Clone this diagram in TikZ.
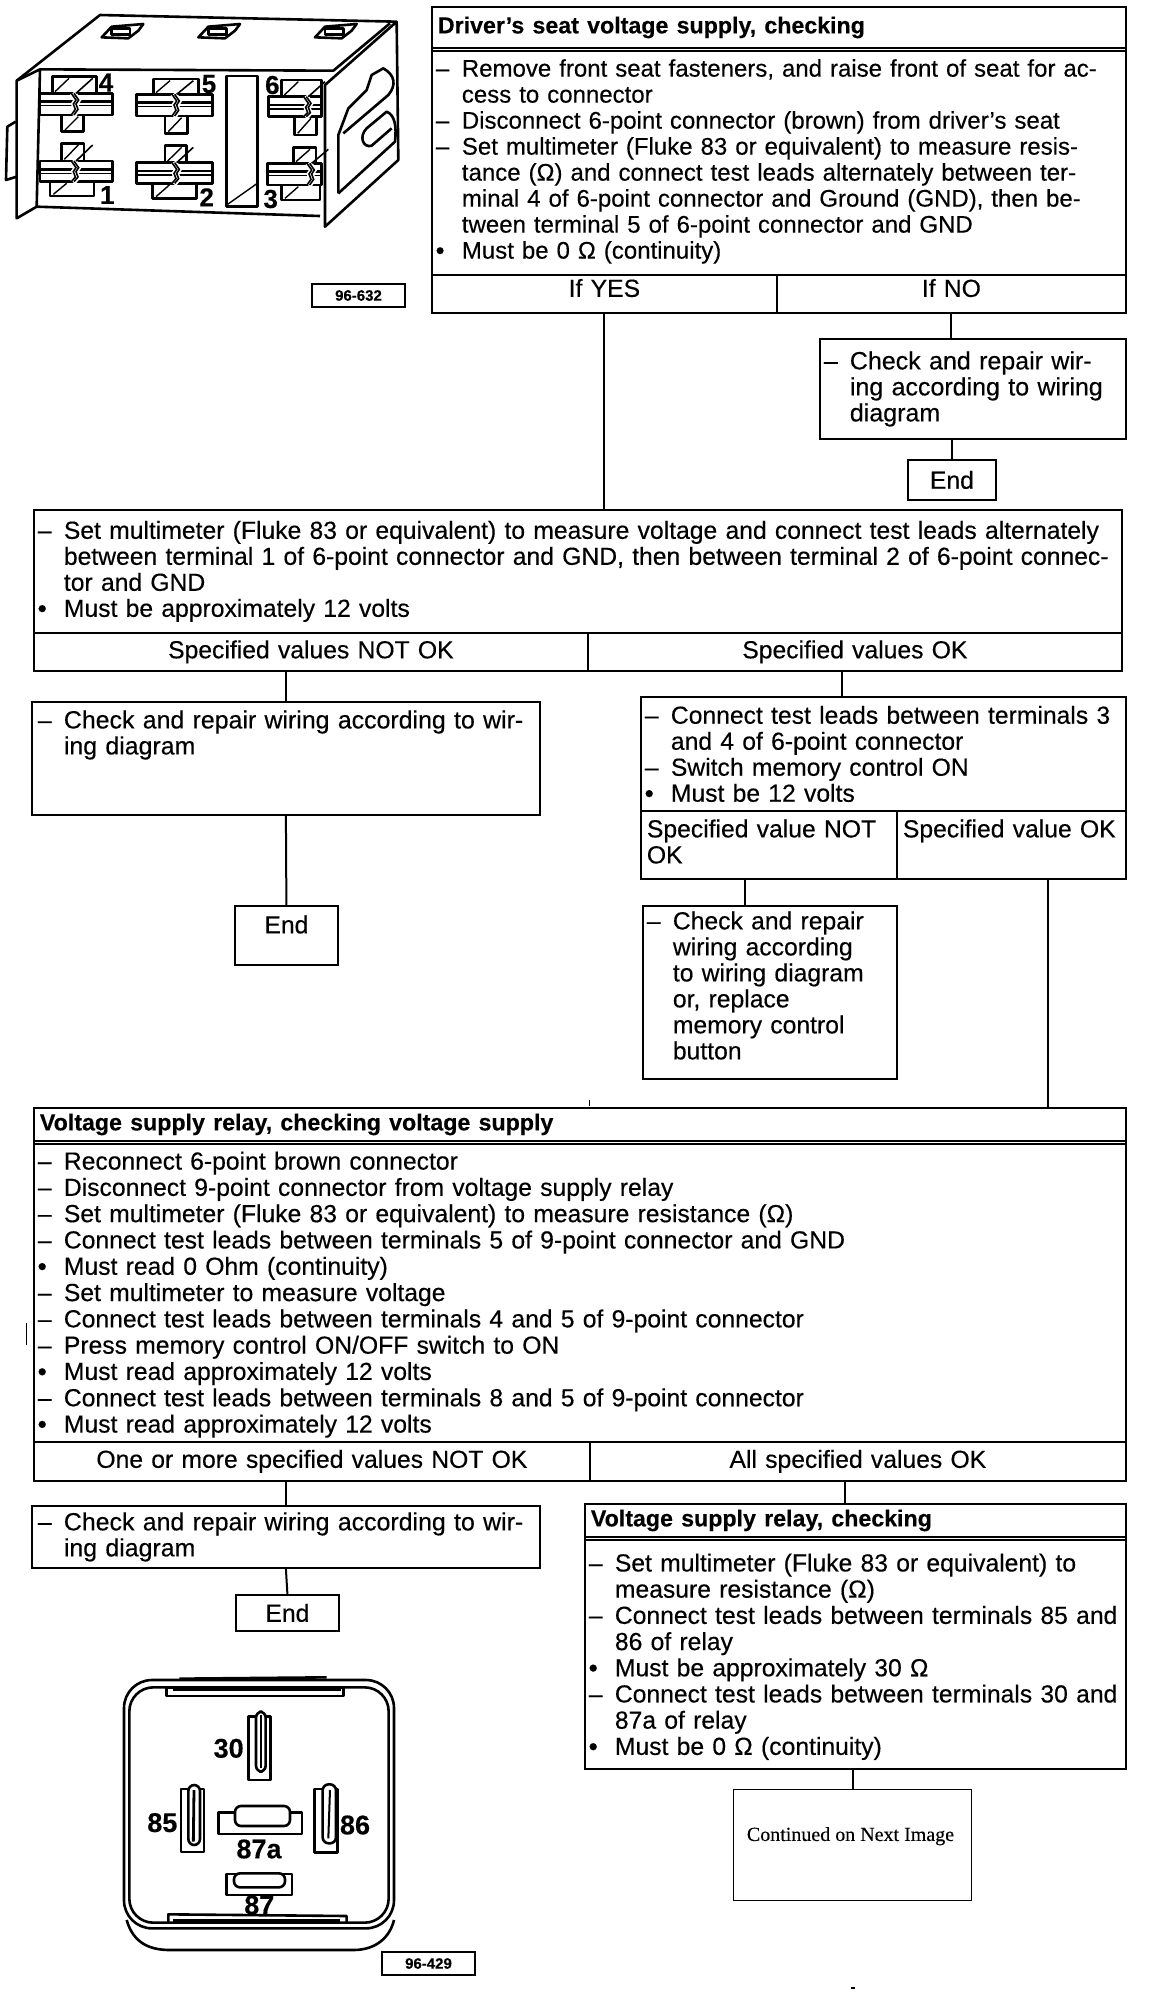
\documentclass[tikz,border=0pt]{standalone}
\usepackage{fontspec}
\setmainfont{Liberation Sans}[RawFeature={embolden=0.35}]
\newfontfamily\notefont{Liberation Serif}[RawFeature={embolden=0.3}]
\newcommand{\dsh}{\makebox[15pt][l]{\hspace*{2pt}–}}
\newcommand{\bul}{\makebox[15pt][l]{\hspace*{2pt}\textbf{•}}}
\newcommand{\cnt}{\hspace*{15pt}}
\newcommand{\ttl}{\hspace*{3pt}\fontsize{11.6}{13}\selectfont\bfseries}
\newcommand{\lift}[1]{\rule[-#1]{0pt}{#1}}
\newcommand{\drop}[1]{\rule{0pt}{#1}}
\tikzset{
  panel/.style 2 args={draw, line width=0.9pt, anchor=north west, inner xsep=0pt, inner ysep=0pt,
    text width=#1pt, minimum height=#2pt, align=left, font=\fontsize{12.35}{13}\selectfont},
  cell/.style={align=center},
  wire/.style={line width=1pt},
  ill/.style={line width=1.3pt, line join=round},
  figno/.style={draw, line width=1pt, anchor=north west, inner sep=0pt, minimum width=46.5pt,
    minimum height=11.5pt, font=\fontsize{7.5}{8}\selectfont\bfseries},
  pinno/.style={inner sep=0pt, font=\fontsize{13}{13}\selectfont\bfseries},
  relayno/.style={inner sep=0pt, font=\fontsize{13.5}{14}\selectfont\bfseries}
}
\begin{document}
\begin{tikzpicture}[x=0.5pt, y=-0.5pt]
\useasboundingbox (0,0) rectangle (1168,1994);

% === driver's seat supply ===
\node[panel={347}{20.5}] (supplytitle) at (431,6) {\ttl Driver's seat voltage supply, checking};
\node[panel={347}{113.5}, font=\fontsize{12}{13}\selectfont] (supplybody) at (431,47) {%
\dsh Remove front seat fasteners, and raise front of seat for ac-\\
\cnt cess to connector\\
\dsh Disconnect 6-point connector (brown) from driver's seat\\
\dsh Set multimeter (Fluke 83 or equivalent) to measure resis-\\
\cnt tance (Ω) and connect test leads alternately between ter-\\
\cnt minal 4 of 6-point connector and Ground (GND), then be-\\
\cnt tween terminal 5 of 6-point connector and GND\\
\bul Must be 0 Ω (continuity)};
\draw[wire] ([yshift=-2pt]supplybody.north west) -- ([yshift=-2pt]supplybody.north east);
\node[panel={172.5}{19}, cell] (ifyes) at (431,274) {\raisebox{6pt}{If YES}};
\node[panel={174.5}{19}, cell] (ifno) at (776,274) {\raisebox{6pt}{If NO}};
\node[panel={153}{50}, font=\fontsize{12.5}{13}\selectfont] (repairA) at (819,338) {%
\dsh Check and repair wir-\\
\cnt ing according to wiring\\
\cnt diagram};
\node[panel={44}{20}, cell] (endA) at (907,459) {End};
\draw[wire] (ifno.south) -- (ifno.south |- repairA.north);
\draw[wire] (endA.north |- repairA.south) -- (endA.north);

% === 12 volt check ===
\node[panel={544}{61.5}] (voltbody) at (33,509) {%
\dsh Set multimeter (Fluke 83 or equivalent) to measure voltage and connect test leads alternately\\
\cnt between terminal 1 of 6-point connector and GND, then between terminal 2 of 6-point connec-\\
\cnt tor and GND\\
\bul Must be approximately 12 volts};
\node[panel={277}{19}, cell] (voltbad) at (33,632) {Specified values NOT OK};
\node[panel={267}{19}, cell] (voltgood) at (587,632) {Specified values OK};
\draw[wire] (ifyes.south) -- (ifyes.south |- voltbody.north);

\node[panel={254}{56.5}, font=\fontsize{12.45}{13}\selectfont] (repairB) at (31,701) {%
\hspace*{1pt}\dsh Check and repair wiring according to wir-\\
\hspace*{1pt}\cnt ing diagram\\
~\\
~};
\node[panel={51.5}{29.5}, cell] (endB) at (234,905) {\raisebox{11pt}{End}};
\draw[wire] (repairB.north |- voltbad.south) -- (repairB.north);
\draw[wire] (repairB.south) -- (endB.north);

\node[panel={242.5}{57}] (memcheck) at (640,696) {%
\dsh Connect test leads between terminals 3\\
\cnt and 4 of 6-point connector\\
\dsh Switch memory control ON\\
\bul Must be 12 volts};
\node[panel={128}{34}] (membad) at (640,810) {\hspace*{3pt}\makebox[120pt][s]{Specified value NOT}\\\hspace*{3pt}OK\lift{3.5pt}};
\node[panel={114.5}{34}] (memgood) at (896,810) {\hspace*{3pt}Specified value OK\\~\lift{3.5pt}};
\draw[wire] ([xshift=-6.5pt]voltgood.south) -- ([xshift=-6.5pt]voltgood.south |- memcheck.north);
\node[panel={127}{86.5}] (repairC) at (642,905) {%
\dsh Check and repair\\
\cnt wiring according\\
\cnt to wiring diagram\\
\cnt or, replace\\
\cnt memory control\\
\cnt button\lift{7pt}};
\draw[wire] ([xshift=-12pt]membad.south) -- ([xshift=-12pt]membad.south |- repairC.north);

% === relay voltage supply ===
\node[panel={546}{16.5}] (relaytitle) at (33,1107) {\ttl Voltage supply relay, checking voltage supply};
\node[panel={546}{150.5}, font=\fontsize{12.35}{13.15}\selectfont] (relaybody) at (33,1140) {%
\drop{12.2pt}\dsh Reconnect 6-point brown connector\\
\dsh Disconnect 9-point connector from voltage supply relay\\
\dsh Set multimeter (Fluke 83 or equivalent) to measure resistance (Ω)\\
\dsh Connect test leads between terminals 5 of 9-point connector and GND\\
\bul Must read 0 Ohm (continuity)\\
\dsh Set multimeter to measure voltage\\
\dsh Connect test leads between terminals 4 and 5 of 9-point connector\\
\dsh Press memory control ON/OFF switch to ON\\
\bul Must read approximately 12 volts\\
\dsh Connect test leads between terminals 8 and 5 of 9-point connector\\
\bul Must read approximately 12 volts};
\draw[wire] ([yshift=-2pt]relaybody.north west) -- ([yshift=-2pt]relaybody.north east);
\node[panel={278}{19.5}, cell] (relaybad) at (33,1441) {\raisebox{2pt}{One or more specified values NOT OK}};
\node[panel={268}{19.5}, cell] (relaygood) at (589,1441) {\raisebox{2pt}{All specified values OK}};
\draw[wire] ([xshift=18.5pt]memgood.south) -- ([xshift=18.5pt]memgood.south |- relaytitle.north);

\node[panel={254}{31}, font=\fontsize{12.45}{13}\selectfont] (repairD) at (31,1505) {%
\hspace*{1pt}\dsh Check and repair wiring according to wir-\\
\hspace*{1pt}\cnt ing diagram};
\node[panel={51.5}{18}, cell] (endD) at (235,1594) {End};
\draw[wire] (repairD.north |- relaybad.south) -- (repairD.north);
\draw[wire] (repairD.south) -- (endD.north);

% === relay resistance ===
\node[panel={270.5}{16.5}] (coiltitle) at (584,1503) {\ttl Voltage supply relay, checking};
\node[panel={270.5}{116}, font=\fontsize{12.35}{13.1}\selectfont] (coilbody) at (584,1536) {%
\drop{12.8pt}\dsh Set multimeter (Fluke 83 or equivalent) to\\
\cnt measure resistance (Ω)\\
\dsh Connect test leads between terminals 85 and\\
\cnt 86 of relay\\
\bul Must be approximately 30 Ω\\
\dsh Connect test leads between terminals 30 and\\
\cnt 87a of relay\\
\bul Must be 0 Ω (continuity)};
\draw[wire] ([yshift=-2pt]coilbody.north west) -- ([yshift=-2pt]coilbody.north east);
\draw[wire] ([xshift=-6.5pt]relaygood.south) -- ([xshift=-6.5pt]relaygood.south |- coiltitle.north);
\node[draw, line width=0.5pt, anchor=north west, inner sep=0pt, minimum width=119pt, minimum height=55.5pt,
  font=\notefont\fontsize{10}{11}\selectfont] (nextimage) at (733,1789) {\raisebox{11pt}{\hspace*{-2pt}Continued on Next Image}};
\draw[wire] (nextimage.north |- coilbody.south) -- (nextimage.north);

% scan specks
\draw[line width=0.5pt] (589,1100) -- (589,1106);
\draw[line width=0.5pt] (26,1323) -- (26,1345);
\draw[line width=0.6pt] (851,1988) -- (855,1988);

% === six point connector ===
\begin{scope}[scale=1/3]
\draw[ill] (50,242) -- (300,45) -- (1190,65) -- (1195,480) -- (975,680) -- (975,255) -- (1190,65);
\draw[ill] (50,242) -- (120,208) -- (110,620) -- (50,655) -- cycle;
\draw[ill] (120,208) -- (1000,212) -- (1170,70);
\draw[ill] (110,620) -- (960,648);
\draw[ill] (47,365) -- (22,380) -- (18,540) -- (50,530);
\draw[ill] (680,228) rectangle (772,620);
\draw[line width=0.7pt] (680,615) -- (772,550);
\draw[ill] (1015,580) -- (1015,405) -- (1045,325) -- (1100,270) -- (1115,225) -- (1150,205)
  .. controls (1185,225) and (1190,255) .. (1165,285) -- (1030,400);
\draw[ill] (1015,580) -- (1185,425) .. controls (1190,380) and (1185,345) .. (1160,335) -- (1100,385)
  .. controls (1075,410) and (1090,445) .. (1115,437) -- (1175,385);
\foreach \sx in {370,660,1010} {
  \draw[ill] (\sx-65,112) -- (\sx-35,80) -- (\sx+60,72) -- (\sx+45,92) -- (\sx+15,115) -- cycle;
  \draw[ill] (\sx-35,85) rectangle (\sx+20,103);
}
\foreach \bl/\br/\bt/\bb/\tl/\tr/\tt/\ul/\ur/\ub/\zx in {
  120/338/280/345/157/290/230/185/250/395/228,
  410/637/283/348/460/595/237/495/563/400/530,
  805/965/290/350/845/965/240/883/950/405/925,
  120/338/483/545/185/252/430/150/282/588/228,
  410/637/488/550/495/560/437/458/590/595/530,
  803/965/490/555/880/948/443/845/960/600/935} {
  \draw[ill, fill=white] (\tl,\tt) rectangle (\tr,\bt);
  \draw[line width=0.7pt] (\tl+8,\bt-5) -- (\tl+50,\tt+5);
  \draw[ill, fill=white] (\ul,\bb) rectangle (\ur,\ub);
  \draw[line width=0.7pt] (\ul+10,\ub-5) -- (\ul+50,\bb+5);
  \draw[ill, fill=white] (\bl,\bt) rectangle (\br,\bb);
  \draw[ill] (\bl,\bt+25) -- (\br,\bt+25);
  \draw[line width=0.7pt] (\bl,\bt+37) -- (\br,\bt+37);
  \draw[line width=3.5pt, white] (\zx-10,\bt-1) -- (\zx+4,\bt+20) -- (\zx-4,\bt+32) -- (\zx+2,\bt+48) -- (\zx-10,\bb+1);
  \draw[line width=0.8pt] (\zx-14,\bt) -- (\zx,\bt+20) -- (\zx-8,\bt+32) -- (\zx-2,\bt+48) -- (\zx-14,\bb);
  \draw[line width=0.8pt] (\zx-6,\bt) -- (\zx+8,\bt+20) -- (\zx,\bt+32) -- (\zx+6,\bt+48) -- (\zx-6,\bb);
  \draw[line width=0.8pt] (\zx,\bt) -- (\zx+50,\tt+5);
}
\node[pinno] (pinfour) at (318,248) {4};
\node[pinno] (pinfive) at (627,252) {5};
\node[pinno] (pinsix) at (817,255) {6};
\node[pinno] (pinone) at (322,585) {1};
\node[pinno] (pintwo) at (620,592) {2};
\node[pinno] (pinthree) at (812,597) {3};
\end{scope}
\node[figno] (figconn) at (311,283) {96-632};

% === relay ===
\begin{scope}[shift={(100,1600)}, scale=1/3]
\draw[ill, rounded corners=14pt] (72,240) rectangle (882,985);
\draw[ill, rounded corners=12pt] (88,262) rectangle (866,968);
\draw[ill] (80,960) .. controls (100,1030) and (150,1050) .. (210,1050) -- (760,1050)
  .. controls (830,1050) and (870,1010) .. (882,960);
\draw[ill] (238,236) -- (680,232);
\draw[ill] (200,262) rectangle (730,288);
\draw[line width=1.4pt] (218,270) -- (722,270);
\draw[ill] (205,968) -- (205,943) -- (740,948) -- (740,968);
\draw[line width=1.2pt] (220,962) -- (720,962);
\foreach \rl/\rt/\rr/\rb/\il/\it/\ir/\ib in {
  446/350/512/540/468/335/497/515,
  243/567/312/756/265/555/300/735,
  643/567/712/758/668/553/708/730,
  356/638/606/702/405/618/570/678,
  380/822/576/885/402/820/555/862} {
  \draw[ill] (\rl,\rt) rectangle (\rr,\rb);
  \draw[ill, fill=white, rounded corners=3pt] (\il,\it) rectangle (\ir,\ib);
}
\draw[line width=1.4pt] (483,345) -- (483,505);
\draw[line width=1.4pt] (282,570) -- (280,725);
\draw[line width=1pt] (690,570) -- (685,715);
\node[relayno] (termthirty) at (386,445) {30};
\node[relayno] (termeightyfive) at (187,668) {85};
\node[relayno] (termeightysix) at (765,675) {86};
\node[relayno] (termninetya) at (477,747) {87a};
\node[relayno] (termeightyseven) at (478,915) {87};
\end{scope}
\node[figno] (figrelay) at (381,1951) {96-429};
\end{tikzpicture}
\end{document}
